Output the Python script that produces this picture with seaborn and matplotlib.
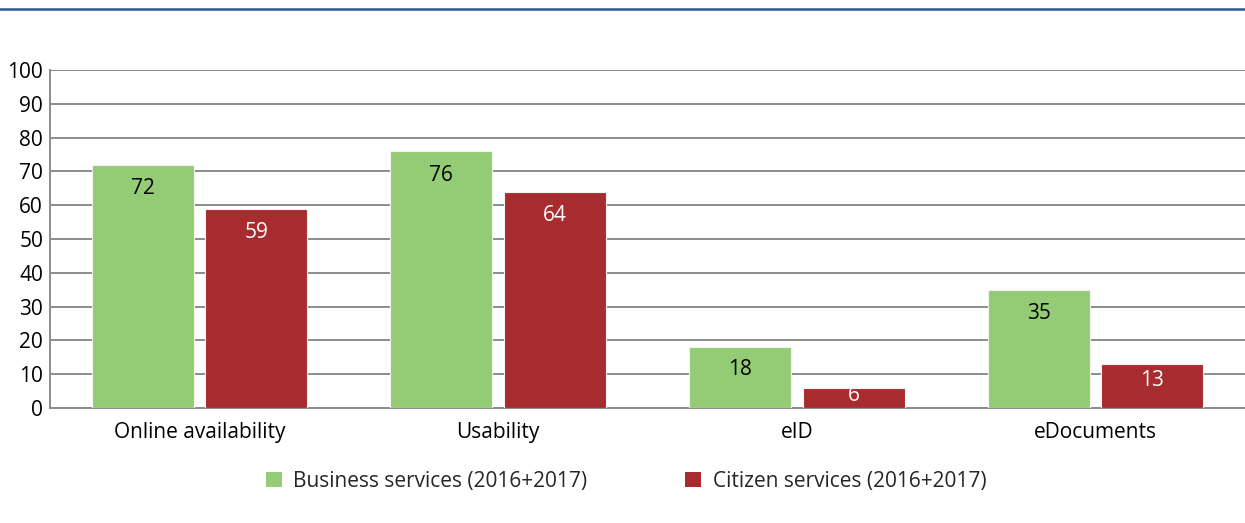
import matplotlib
matplotlib.use("Agg")
import matplotlib.pyplot as plt
from matplotlib.lines import Line2D
from matplotlib.ticker import FixedLocator
import pandas as pd
import seaborn as sns

categories = ["Online availability", "Usability", "eID", "eDocuments"]
business = [72, 76, 18, 35]
citizen = [59, 64, 6, 13]
series_names = ["Business services (2016+2017)", "Citizen services (2016+2017)"]
y_ticks = [0, 10, 20, 30, 40, 50, 60, 70, 80, 90, 100]

GREEN = "#94CC76"
RED = "#A82C2F"
GRID = "#8C8C8C"
FS = 15

df = pd.DataFrame({
    "category": categories * 2,
    "series": [series_names[0]] * len(categories) + [series_names[1]] * len(categories),
    "value": business + citizen,
})

sns.set_theme(style="white")
plt.rcParams["font.family"] = ["Open Sans", "DejaVu Sans"]

fig = plt.figure(figsize=(12.45, 5.23), dpi=100)
ax = fig.add_axes([50 / 1245, 115 / 523, 1195 / 1245, 338 / 523])

sns.barplot(
    data=df, x="category", y="value", hue="series",
    order=categories, hue_order=series_names,
    palette=[GREEN, RED], width=0.76, gap=0.1,
    saturation=1, ax=ax, legend=True, zorder=3,
    edgecolor="#F2F2F2", linewidth=0.8,
)

ax.set_xlim(-0.5, len(categories) - 0.5)
ax.set_ylim(0, 100)
ax.set_yticks(y_ticks)
ax.set_xlabel("")
ax.set_ylabel("")

# horizontal gridlines
ax.yaxis.grid(True, color=GRID, linewidth=1.4, zorder=0)
ax.xaxis.grid(False)
ax.set_axisbelow(True)

for side in ["top", "right"]:
    ax.spines[side].set_visible(False)
for side in ["left", "bottom"]:
    ax.spines[side].set_visible(True)
    ax.spines[side].set_color(GRID)
    ax.spines[side].set_linewidth(1.4)

ax.tick_params(axis="y", length=0, labelsize=FS, colors="black", pad=5)
ax.tick_params(axis="x", which="major", length=0, labelsize=FS, colors="black", pad=10)
ax.xaxis.set_minor_locator(FixedLocator([i - 0.5 for i in range(len(categories) + 1)]))
ax.tick_params(axis="x", which="minor", length=6, width=1.2, color=GRID, direction="out")

# value labels inside the top of each bar
text_colors = ["black", "white"]
for container, tcolor in zip(ax.containers, text_colors):
    for bar in container:
        h = bar.get_height()
        x = bar.get_x() + bar.get_width() / 2
        bar_px = h * 3.38
        off = min(24, bar_px * 0.37)
        ax.annotate(f"{h:.0f}", xy=(x, h), xytext=(0, -off),
                    textcoords="offset pixels", ha="center", va="center",
                    fontsize=FS, color=tcolor, zorder=5)

leg = ax.legend(
    loc="center", bbox_to_anchor=(0.503, 1 - 481 / 523), bbox_transform=fig.transFigure,
    ncol=2, frameon=False, fontsize=FS, handlelength=0.75, handleheight=0.75,
    handletextpad=0.55, columnspacing=4.7,
)
for h in leg.legend_handles:
    h.set_edgecolor("none")

# thin rule across the top of the figure
fig.add_artist(Line2D([0, 1], [1 - 9 / 523, 1 - 9 / 523], transform=fig.transFigure,
                      color="#2F5597", linewidth=1.8))

fig.savefig("out.png", dpi=100)
